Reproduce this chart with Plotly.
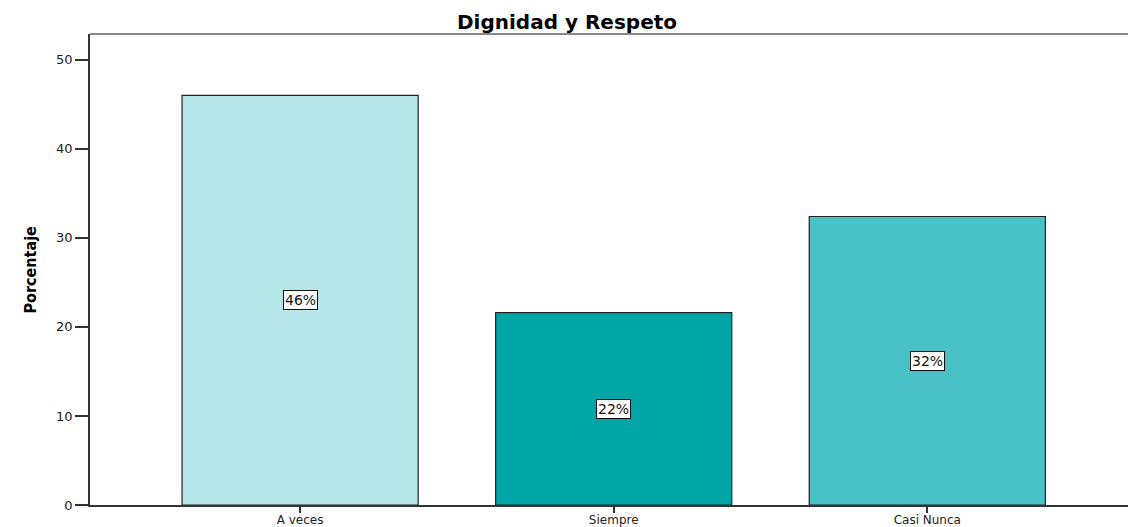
import plotly.graph_objects as go

categories = ["A veces", "Siempre", "Casi Nunca"]
values = [46.0, 21.6, 32.4]
labels = ["46%", "22%", "32%"]
colors = ["#B5E6E8", "#00A6A5", "#48C2C7"]
y_ticks = [0, 10, 20, 30, 40, 50]

W, H = 1128, 527
ml, mr, mt, mb = 90, 0, 34, 22

fig = go.Figure()
fig.add_trace(go.Bar(
    x=list(range(len(categories))), y=values, width=0.753,
    marker=dict(color=colors, line=dict(color="#222222", width=1.2)),
    hoverinfo="skip", showlegend=False,
))

for i, (v, lab) in enumerate(zip(values, labels)):
    fig.add_annotation(
        x=i, y=v / 2, xref="x", yref="y", text=lab, showarrow=False,
        font=dict(family="DejaVu Sans", size=14, color="#111"),
        bgcolor="white", bordercolor="#111", borderwidth=1, borderpad=1,
    )

fig.add_annotation(
    xref="paper", yref="paper", x=(18 - ml) / (W - ml - mr), y=(H - mb - 270) / (H - mt - mb),
    text="<b>Porcentaje</b>", textangle=-90, showarrow=False,
    font=dict(family="Liberation Sans Narrow, Arial Narrow, DejaVu Sans Condensed", size=16, color="#000"),
)

fig.update_layout(
    width=W, height=H,
    margin=dict(l=ml, r=mr, t=mt, b=mb),
    paper_bgcolor="white", plot_bgcolor="white",
    title=dict(text="<b>Dignidad y Respeto</b>", x=567 / W, xanchor="center", y=1 - 22 / H, yanchor="middle",
               font=dict(family="DejaVu Sans", size=20, color="#000")),
    xaxis=dict(
        range=[-0.67, 2.64], tickmode="array", tickvals=list(range(len(categories))), ticktext=categories,
        showline=True, linecolor="#333", linewidth=1.5, mirror=False,
        ticks="outside", ticklen=6, tickcolor="#333", tickwidth=1.5,
        tickfont=dict(family="DejaVu Sans", size=12, color="#222"), ticklabelstandoff=-3,
        showgrid=False, zeroline=False, fixedrange=True, automargin=False,
    ),
    yaxis=dict(
        range=[0, 52.9], tickmode="array", tickvals=y_ticks,
        showline=True, linecolor="#333", linewidth=1.5,
        ticks="outside", ticklen=13, tickcolor="#333", tickwidth=1.5,
        tickfont=dict(family="DejaVu Sans", size=13, color="#222"),
        showgrid=False, zeroline=False, fixedrange=True, automargin=False,
    ),
)

# top frame line (gray)
fig.add_shape(type="line", xref="paper", yref="paper", x0=0, x1=1, y0=1, y1=1,
              line=dict(color="#8a8a8a", width=2))

fig.write_html("out.html", config={"displayModeBar": False},
               post_script="document.body.style.margin='0';document.body.style.overflow='hidden';")
